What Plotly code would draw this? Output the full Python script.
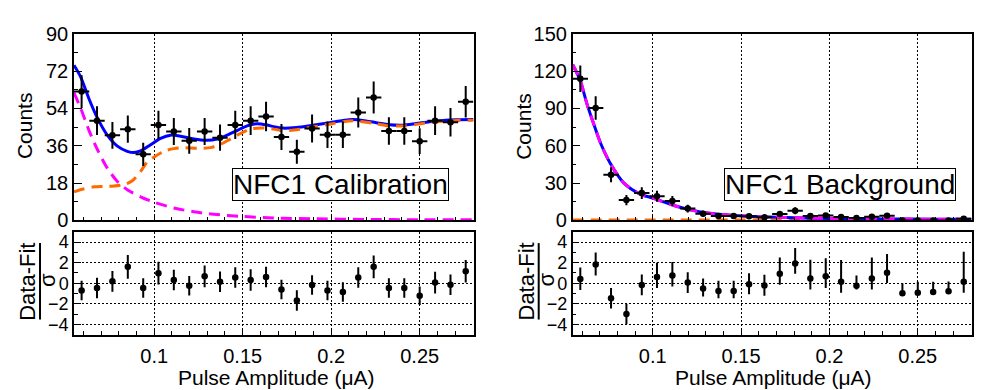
import plotly.graph_objects as go

# ---------------- data ----------------
bin_centers = [0.0590, 0.0677, 0.0764, 0.0851, 0.0938, 0.1024, 0.1111, 0.1198, 0.1285,
               0.1372, 0.1458, 0.1545, 0.1632, 0.1719, 0.1806, 0.1892, 0.1979, 0.2066,
               0.2153, 0.2240, 0.2326, 0.2413, 0.2500, 0.2587, 0.2674, 0.2760]
half_bin = [0.00434] * 26
x_range = [0.0547, 0.2804]

# Calibration (left)
cal_counts = [62.1, 48.1, 41.0, 44.0, 31.9, 46.0, 42.9, 38.4, 42.9, 39.9, 46.0, 48.1, 50.1,
              40.2, 33.1, 44.3, 41.3, 41.3, 52.0, 59.2, 43.1, 43.1, 38.2, 48.1, 47.3, 57.2]
cal_err = [7.9, 6.9, 6.4, 6.6, 5.6, 6.8, 6.5, 6.2, 6.5, 6.3, 6.8, 6.9, 7.1,
           6.3, 5.8, 6.7, 6.4, 6.4, 7.2, 7.7, 6.6, 6.6, 6.2, 6.9, 6.9, 7.6]
cal_resid = [-0.70, -0.46, 0.18, 1.59, -0.46, 0.98, 0.31, -0.24, 0.67, 0.15, 0.55, 0.31, 0.61,
             -0.61, -1.68, -0.18, -0.70, -0.85, 0.55, 1.59, -0.46, -0.46, -1.22, 0.06, -0.15, 1.16]
cal_resid_err = [0.95, 1.0, 1.0, 1.15, 0.95, 1.1, 1.0, 0.95, 1.05, 1.0, 1.0, 1.05, 1.0,
                 0.95, 1.0, 0.95, 0.95, 0.95, 1.0, 1.1, 0.95, 0.95, 0.9, 1.05, 1.0, 1.1]

cal_total_x = [0.0547, 0.0585, 0.0632, 0.0679, 0.0735, 0.0792, 0.0848, 0.0886, 0.0923, 0.0980,
               0.1036, 0.1092, 0.1149, 0.1224, 0.1299, 0.1355, 0.1412, 0.1468, 0.1525, 0.1581,
               0.1637, 0.1675, 0.1728, 0.1803, 0.1897, 0.1991, 0.2067, 0.2123, 0.2179, 0.2255,
               0.2330, 0.2405, 0.2480, 0.2555, 0.2631, 0.2706, 0.2804]
cal_total_y = [74.8, 69.1, 58.5, 49.4, 41.1, 35.8, 33.3, 32.7, 33.5, 36.5,
               39.5, 41.1, 40.6, 39.2, 38.6, 39.2, 41.1, 43.3, 45.6, 46.6,
               46.0, 45.2, 44.5, 44.8, 45.9, 47.1, 48.2, 48.6, 48.2, 47.1,
               46.1, 45.9, 46.7, 47.6, 48.2, 48.5, 48.6]

cal_sig_x = [0.0547, 0.0603, 0.0660, 0.0716, 0.0773, 0.0829, 0.0876, 0.0923, 0.0961, 0.0998,
             0.1055, 0.1111, 0.1167, 0.1242, 0.1318, 0.1374, 0.1430, 0.1487, 0.1543, 0.1600,
             0.1675, 0.1728, 0.1803, 0.1897, 0.1991, 0.2067, 0.2123, 0.2179, 0.2255, 0.2330,
             0.2405, 0.2480, 0.2555, 0.2631, 0.2706, 0.2804]
cal_sig_y = [13.8, 15.3, 16.2, 16.4, 16.6, 17.3, 19.1, 23.6, 28.2, 30.5,
             33.3, 34.6, 35.0, 34.8, 35.1, 36.7, 39.2, 41.9, 44.0, 44.6,
             44.0, 43.2, 43.7, 45.0, 46.4, 47.5, 48.0, 47.6, 46.6, 45.6,
             45.5, 46.3, 47.2, 47.8, 48.2, 48.3]

cal_bkg_x = [0.0547, 0.0585, 0.0632, 0.0679, 0.0735, 0.0792, 0.0848, 0.0923, 0.0998, 0.1111,
             0.1224, 0.1336, 0.1487, 0.1675, 0.1900, 0.2200, 0.2500, 0.2804]
cal_bkg_y = [61.5, 54.0, 43.3, 34.2, 25.2, 18.8, 14.8, 11.4, 8.8, 6.0,
             4.2, 3.0, 2.0, 1.2, 0.8, 0.5, 0.35, 0.3]

# Background (right)
bkg_counts = [113.8, 90.3, 36.7, 16.4, 22.0, 19.5, 15.7, 9.6, 5.5, 3.5, 3.5, 3.3, 2.5,
              5.3, 7.8, 3.5, 4.0, 2.8, 2.0, 3.0, 3.8, 0.0, 0.0, 0.0, 0.0, 1.3]
bkg_err = [10.7, 9.5, 6.1, 4.1, 4.7, 4.4, 4.0, 3.1, 2.3, 1.9, 1.9, 1.8, 1.6,
           2.3, 2.8, 1.9, 2.0, 1.7, 1.4, 1.7, 1.9, 0.0, 0.0, 0.0, 0.0, 1.1]
bkg_resid = [0.40, 1.83, -1.47, -2.99, -0.18, 0.61, 0.76, 0.06, -0.52, -0.76, -0.76, -0.09, -0.21,
             0.92, 1.92, 0.46, 0.67, 0.15, -0.24, 0.46, 1.01, -0.98, -0.92, -0.85, -0.79, 0.15]
bkg_resid_up = [1.13, 1.16, 1.0, 1.0, 1.04, 1.37, 1.31, 1.0, 0.98, 1.0, 1.0, 1.07, 1.04,
                1.59, 1.5, 1.83, 1.77, 2.1, 1.0, 2.05, 1.83, 0.98, 1.07, 1.0, 0.95, 2.9]
bkg_resid_lo = [1.07, 1.07, 0.98, 1.0, 0.98, 1.07, 1.07, 1.0, 0.76, 0.7, 0.7, 0.98, 1.0,
                1.07, 1.0, 1.07, 1.13, 1.07, 0.37, 1.07, 1.0, 0.2, 0.15, 0.1, 0.1, 1.07]

bkg_fit_x = [0.0547, 0.0588, 0.0629, 0.0667, 0.0705, 0.0761, 0.0837, 0.0931, 0.1000, 0.1120,
             0.1213, 0.1310, 0.1460, 0.1600, 0.1800, 0.2000, 0.2300, 0.2600, 0.2804]
bkg_fit_y = [125.0, 113.0, 93.0, 77.0, 62.0, 45.5, 30.0, 21.0, 18.0, 12.0,
             8.5, 6.0, 4.0, 3.0, 2.2, 1.6, 1.2, 1.0, 0.9]
bkg_flat_x = [0.0547, 0.2804]
bkg_flat_y = [0.4, 0.4]

# ---------------- figure ----------------
FONT = "Liberation Sans, Arial, Helvetica, sans-serif"
BLUE = "#0000ff"
ORANGE = "#ff6a00"
MAGENTA = "#ff00ff"
GRID_DASH = "2px,2px"

fig = go.Figure()

def add_panel(xa, ya, counts, err, curves):
    for cx, cy, color, dash in curves:
        fig.add_trace(go.Scatter(x=cx, y=cy, mode="lines", xaxis=xa, yaxis=ya,
                                 line=dict(color=color, width=3, dash=dash, shape="spline", smoothing=0.8),
                                 hoverinfo="skip", showlegend=False))
    fig.add_trace(go.Scatter(x=bin_centers, y=counts, mode="markers", xaxis=xa, yaxis=ya,
                             marker=dict(color="black", size=6.5),
                             error_x=dict(type="data", array=half_bin, color="black", thickness=2, width=0),
                             error_y=dict(type="data", array=err, color="black", thickness=2, width=0),
                             showlegend=False))

add_panel("x", "y", cal_counts, cal_err,
          [(cal_total_x, cal_total_y, BLUE, "solid"),
           (cal_sig_x, cal_sig_y, ORANGE, "11px,7px"),
           (cal_bkg_x, cal_bkg_y, MAGENTA, "11px,7px")])
add_panel("x3", "y3", bkg_counts, bkg_err,
          [(bkg_flat_x, bkg_flat_y, ORANGE, "11px,7px"),
           (bkg_fit_x, bkg_fit_y, BLUE, "solid"),
           (bkg_fit_x, bkg_fit_y, MAGENTA, "11px,7px")])

fig.add_trace(go.Scatter(x=bin_centers, y=cal_resid, mode="markers", xaxis="x2", yaxis="y2",
                         marker=dict(color="black", size=6.5),
                         error_y=dict(type="data", array=cal_resid_err, color="black", thickness=2, width=0),
                         showlegend=False))
fig.add_trace(go.Scatter(x=bin_centers, y=bkg_resid, mode="markers", xaxis="x4", yaxis="y4",
                         marker=dict(color="black", size=6.5),
                         error_y=dict(type="data", array=bkg_resid_up, arrayminus=bkg_resid_lo,
                                      color="black", thickness=2, width=0),
                         showlegend=False))

W, H = 997, 390
L_dom = [74 / W, 473.5 / W]
R_dom = [572.7 / W, 971.5 / W]
top_dom = [1 - 222 / H, 1 - 24 / H]
bot_dom = [1 - 343 / H, 1 - 234 / H]

def xaxis(domain, anchor, labels):
    return dict(domain=domain, anchor=anchor, range=x_range, showline=True, linecolor="black",
                linewidth=1.5, mirror=True, ticks="inside", ticklen=7, tickcolor="black",
                tick0=0, dtick=0.05, showticklabels=labels, zeroline=False,
                showgrid=True, gridcolor="black", griddash=GRID_DASH, gridwidth=1.3,
                ticklabelstandoff=3,
                tickfont=dict(family=FONT, size=20, color="black"),
                minor=dict(ticks="inside", ticklen=4, dtick=0.01, tick0=0, tickcolor="black", showgrid=False))

def yaxis_top(domain, anchor, rng, dt, mdt):
    return dict(domain=domain, anchor=anchor, range=rng, showline=True, linecolor="black",
                linewidth=1.5, mirror=True, ticks="inside", ticklen=8, tickcolor="black",
                tick0=0, dtick=dt, showgrid=False, zeroline=False,
                tickfont=dict(family=FONT, size=20, color="black"),
                minor=dict(ticks="inside", ticklen=4, dtick=mdt, tick0=0, tickcolor="black", showgrid=False))

def yaxis_bot(domain, anchor):
    return dict(domain=domain, anchor=anchor, range=[-5, 5], showline=True, linecolor="black",
                linewidth=1.5, mirror=True, ticks="inside", ticklen=7, tickcolor="black",
                tick0=0, dtick=2, showgrid=True, gridcolor="black", griddash=GRID_DASH, gridwidth=1.3,
                zeroline=False, tickfont=dict(family=FONT, size=18, color="black"),
                minor=dict(ticks="inside", ticklen=4, dtick=1, tick0=0, tickcolor="black", showgrid=False))

fig.update_layout(
    width=W, height=H, margin=dict(l=0, r=0, t=0, b=0),
    paper_bgcolor="white", plot_bgcolor="white", showlegend=False,
    font=dict(family=FONT, color="black"),
    xaxis=xaxis(L_dom, "y", False), yaxis=yaxis_top(top_dom, "x", [0, 90], 18, 9),
    xaxis2=xaxis(L_dom, "y2", True), yaxis2=yaxis_bot(bot_dom, "x2"),
    xaxis3=xaxis(R_dom, "y3", False), yaxis3=yaxis_top(top_dom, "x3", [0, 150], 30, 15),
    xaxis4=xaxis(R_dom, "y4", True), yaxis4=yaxis_bot(bot_dom, "x4"),
)

ann = []
def txt(x, y, s, size=20, angle=0, **kw):
    ann.append(dict(x=x / W, y=1 - y / H, xref="paper", yref="paper", text=s, showarrow=False,
                    textangle=angle, font=dict(family=FONT, size=size, color="black"),
                    xanchor="center", yanchor="middle", **kw))

for off in (0, 498.7):
    txt(24 + off, 122, "Counts", 21, -90)
    txt(28 + off, 287, "Data-Fit", 22, -90)
    txt(48 + off, 285, "σ", 22, -90)
txt(276, 388, "Pulse Amplitude (μA)", 21)
txt(773.5, 388, "Pulse Amplitude (μA)", 21)
txt(340.5, 183.5, "NFC1 Calibration", 28, bordercolor="black", borderwidth=1, borderpad=0, bgcolor="white")
txt(839.7, 183.5, "NFC1 Background", 28, bordercolor="black", borderwidth=1, borderpad=0, bgcolor="white")
fig.update_layout(annotations=ann)

shapes = []
for off in (0, 498.7):
    shapes.append(dict(type="line", xref="paper", yref="paper",
                       x0=(40 + off) / W, x1=(40 + off) / W, y0=1 - 246 / H, y1=1 - 327 / H,
                       line=dict(color="black", width=2)))
fig.update_layout(shapes=shapes)

fig.write_html("out.html", config={"displayModeBar": False},
               post_script="document.body.style.margin='0';document.body.style.overflow='hidden';")
